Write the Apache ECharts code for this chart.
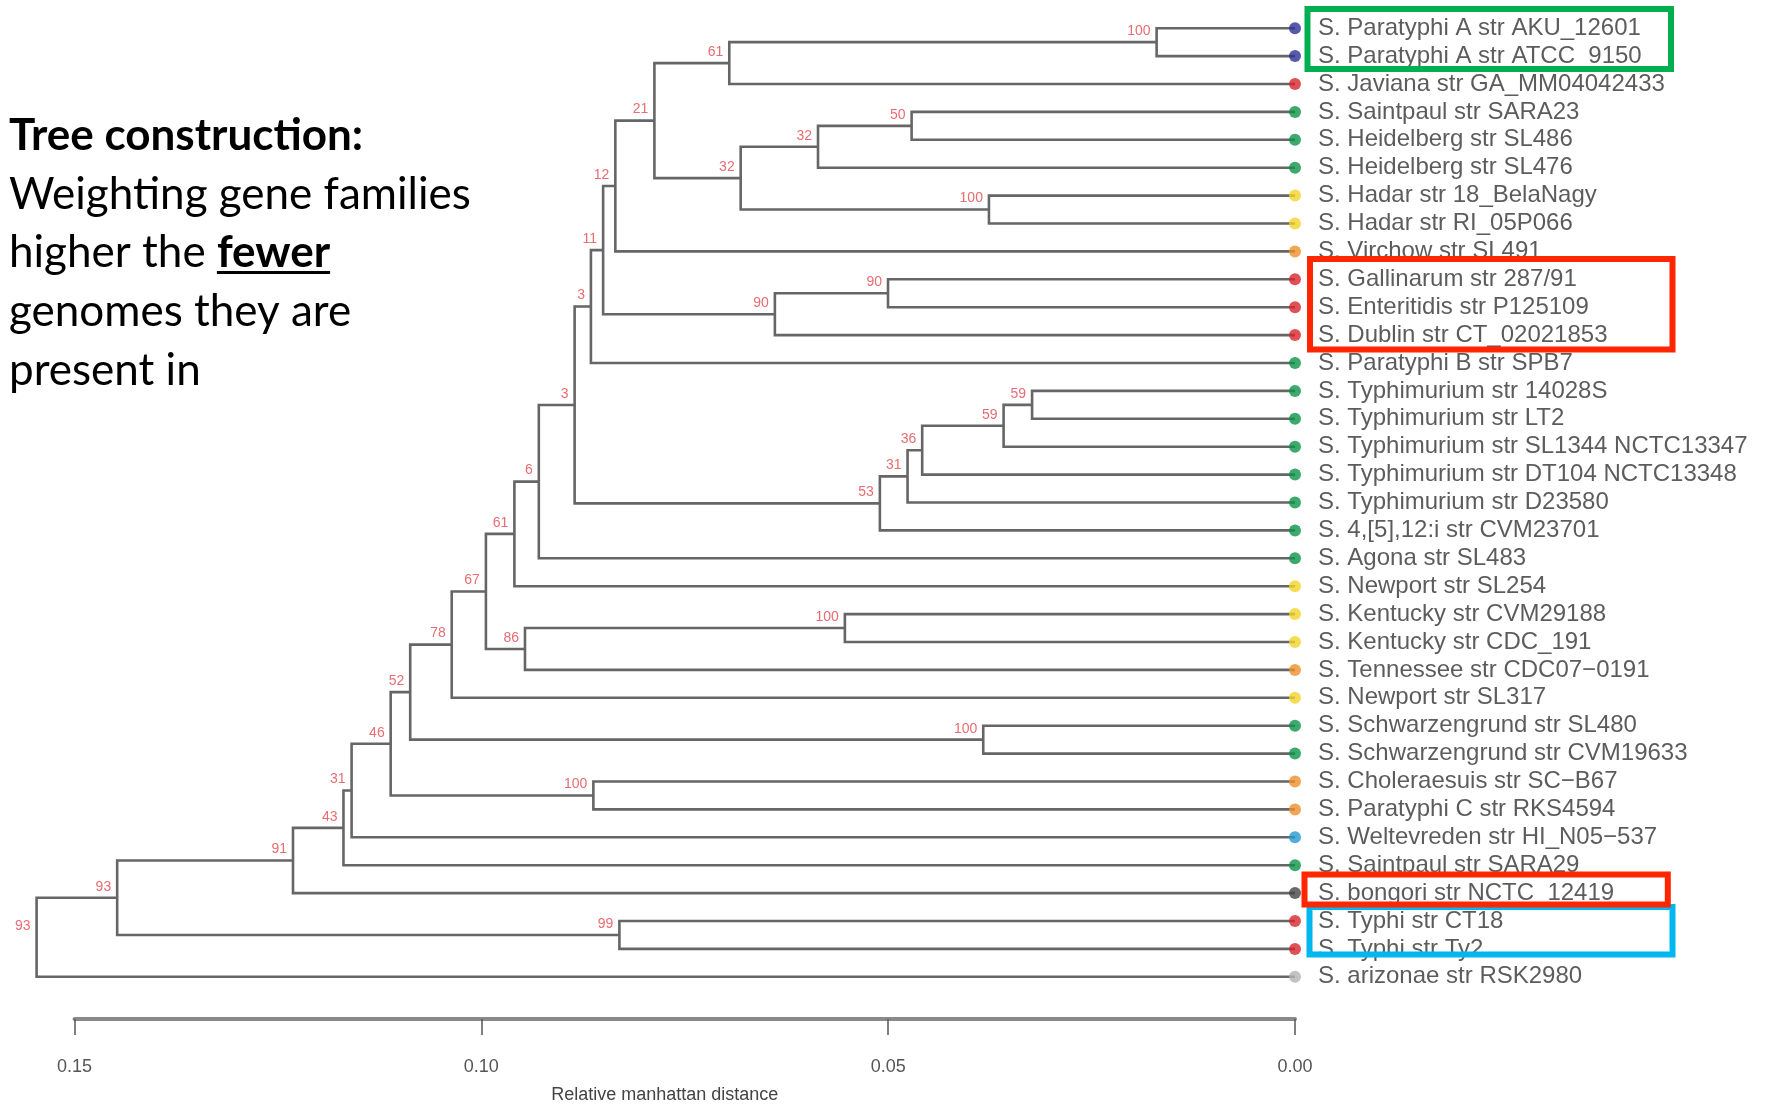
<!DOCTYPE html>
<html>
<head>
<meta charset="UTF-8">
<title>Salmonella tree</title>
<script type="text/javascript" src="https://cdn.jsdelivr.net/npm/echarts@6/dist/echarts.min.js"></script>
<style>
  html, body { margin: 0; padding: 0; background: #fff; }
  #container { width: 1769px; height: 1104px; }
</style>
</head>
<body>
<div id="container"></div>
<script type="text/javascript">
// leaves, top to bottom
var leafNames = [
    'S. Paratyphi A str AKU_12601',
    'S. Paratyphi A str ATCC_9150',
    'S. Javiana str GA_MM04042433',
    'S. Saintpaul str SARA23',
    'S. Heidelberg str SL486',
    'S. Heidelberg str SL476',
    'S. Hadar str 18_BelaNagy',
    'S. Hadar str RI_05P066',
    'S. Virchow str SL491',
    'S. Gallinarum str 287/91',
    'S. Enteritidis str P125109',
    'S. Dublin str CT_02021853',
    'S. Paratyphi B str SPB7',
    'S. Typhimurium str 14028S',
    'S. Typhimurium str LT2',
    'S. Typhimurium str SL1344 NCTC13347',
    'S. Typhimurium str DT104 NCTC13348',
    'S. Typhimurium str D23580',
    'S. 4,[5],12:i str CVM23701',
    'S. Agona str SL483',
    'S. Newport str SL254',
    'S. Kentucky str CVM29188',
    'S. Kentucky str CDC_191',
    'S. Tennessee str CDC07\u22120191',
    'S. Newport str SL317',
    'S. Schwarzengrund str SL480',
    'S. Schwarzengrund str CVM19633',
    'S. Choleraesuis str SC\u2212B67',
    'S. Paratyphi C str RKS4594',
    'S. Weltevreden str HI_N05\u2212537',
    'S. Saintpaul str SARA29',
    'S. bongori str NCTC_12419',
    'S. Typhi str CT18',
    'S. Typhi str Ty2',
    'S. arizonae str RSK2980'
];
var leafGroup = ['A','A','R','G','G','G','Y','Y','O','R','R','R','G','G','G','G','G','G','G','G',
                 'Y','Y','Y','O','Y','G','G','O','O','C','G','K','R','R','L'];

// merges, hclust style: negative = leaf (1-based), positive = earlier merge
var mergeA = [-1, 1, -4, 3, -7, 4, 2, 7, -10, 9, 8, 11, -14, 13, 14, 15, 16, 12, 18, 19,
              -22, 21, 20, 23, -26, 24, -28, 26, 28, 29, 30, -33, 31, 33];
var mergeB = [-2, -3, -5, -6, -8, 5, 6, -9, -11, -12, 10, -13, -15, -16, -17, -18, -19, 17, -20, -21,
              -23, -24, 22, -25, -27, 25, -29, 27, -30, -31, -32, -34, 32, -35];
var mergeHeight = [0.0170, 0.0695, 0.0471, 0.0586, 0.0376, 0.0681, 0.0787, 0.0835, 0.0500, 0.0639,
                   0.0850, 0.0865, 0.0323, 0.0358, 0.0458, 0.0476, 0.0510, 0.0885, 0.0929, 0.0959,
                   0.0553, 0.0946, 0.0994, 0.1036, 0.0383, 0.1087, 0.0862, 0.1111, 0.1159, 0.1169,
                   0.1231, 0.0830, 0.1447, 0.1546];
var mergeSupport = [100, 61, 50, 32, 100, 32, 21, 12, 90, 90, 11, 3, 59, 59, 36, 31, 53, 3, 6, 61,
                    100, 86, 67, 78, 100, 52, 100, 46, 31, 43, 91, 99, 93, 93];

var groupColors = {A: '#2d2f96', R: '#d8252d', G: '#0d9349', Y: '#f1d52a', O: '#ee902c',
                   C: '#2497d0', K: '#454545', L: '#b3b3b3'};

// node positions
var nodeY = [], nodeH = [];
function childPos(c) {
    if (c < 0) return [0, -c - 1];
    return [nodeH[c - 1], nodeY[c - 1]];
}
var linkData = [], nodeLabelData = [];
for (var i = 0; i < mergeA.length; i++) {
    var a = childPos(mergeA[i]), b = childPos(mergeB[i]);
    nodeH.push(mergeHeight[i]);
    nodeY.push((a[1] + b[1]) / 2);
    linkData.push([mergeHeight[i], a[1], b[1], a[0], b[0]]);
    nodeLabelData.push([mergeHeight[i], (a[1] + b[1]) / 2, mergeSupport[i]]);
}
var leafData = leafNames.map(function (n, i) {
    return {value: [0, i], name: n, itemStyle: {color: groupColors[leafGroup[i]]}};
});

var dom = document.getElementById('container');
var myChart = echarts.init(dom, null, {renderer: 'canvas'});

var textFont = 'Lato';
var textSize = 44;
var sansFont = '"Liberation Sans", Arial, sans-serif';

// width of "higher the " for the underline of the bold word
var ctx = document.createElement('canvas').getContext('2d');
ctx.font = textSize + 'px ' + textFont;
var fewerX = 9 + ctx.measureText('higher the ').width;
ctx.font = 'bold ' + textSize + 'px ' + textFont;
var fewerW = ctx.measureText('fewer').width;

function leftLine(txt, x, y, bold) {
    return {type: 'text', x: x, y: y, style: {text: txt, fontSize: textSize, fontWeight: bold ? 'bold' : 'normal',
            fontFamily: textFont, fill: '#000', verticalAlign: 'middle'}};
}

var option = {
    backgroundColor: '#fff',
    animation: false,
    grid: [
        {left: 25.2, right: 474, top: 28.2, bottom: 127.2, outerBoundsMode: 'none'},
        {left: 74.5, right: 474, top: 1000, bottom: 85, outerBoundsMode: 'none'}
    ],
    xAxis: [
        {gridIndex: 0, type: 'value', min: 0, max: 0.156, inverse: true, show: false},
        {
            gridIndex: 1, type: 'value', min: 0, max: 0.15, interval: 0.05, inverse: true,
            position: 'bottom',
            splitLine: {show: false},
            axisLine: {show: true, lineStyle: {color: '#8a8a8a', width: 4}},
            axisTick: {show: true, length: 16, lineStyle: {color: '#555', width: 1.5}},
            axisLabel: {
                margin: 39, fontSize: 18, color: '#555', fontFamily: sansFont,
                showMinLabel: true, showMaxLabel: true,
                formatter: function (v) { return v.toFixed(2); }
            },
            name: 'Relative manhattan distance',
            nameLocation: 'middle',
            nameGap: 67,
            nameTextStyle: {fontSize: 18, color: '#444', fontFamily: sansFont, padding: [0, 40, 0, 0]}
        }
    ],
    yAxis: [
        {gridIndex: 0, type: 'value', min: 0, max: 34, inverse: true, show: false},
        {gridIndex: 1, type: 'value', min: 0, max: 1, show: false}
    ],
    series: [
        {
            type: 'custom',
            xAxisIndex: 0, yAxisIndex: 0,
            silent: true,
            clip: false,
            encode: {x: [0, 3, 4], y: [1, 2]},
            data: linkData,
            renderItem: function (params, api) {
                var h = api.value(0), yA = api.value(1), yB = api.value(2);
                var hA = api.value(3), hB = api.value(4);
                return {
                    type: 'polyline',
                    shape: {points: [api.coord([hA, yA]), api.coord([h, yA]), api.coord([h, yB]), api.coord([hB, yB])]},
                    style: {stroke: '#666', lineWidth: 2.6, fill: null}
                };
            },
            z: 2
        },
        {
            type: 'scatter',
            xAxisIndex: 0, yAxisIndex: 0,
            silent: true,
            symbolSize: 12,
            data: leafData,
            label: {
                show: true, position: 'right', distance: 17,
                formatter: '{b}', fontSize: 24, color: '#333', fontFamily: sansFont
            },
            z: 3
        },
        {
            type: 'scatter',
            xAxisIndex: 0, yAxisIndex: 0,
            silent: true,
            symbolSize: 0,
            data: nodeLabelData,
            label: {
                show: true, position: 'left', distance: 6, offset: [0, -11],
                formatter: function (p) { return p.value[2]; },
                fontSize: 14, color: '#e2474d', fontFamily: sansFont
            },
            z: 4
        }
    ],
    graphic: [
        leftLine('Tree construction:', 9, 136, true),
        leftLine('Weighting gene families', 9, 194.5, false),
        leftLine('higher the ', 9, 253, false),
        leftLine('fewer', fewerX, 253, true),
        {type: 'line', shape: {x1: fewerX, y1: 272.5, x2: fewerX + fewerW, y2: 272.5}, style: {stroke: '#000', lineWidth: 3}},
        leftLine('genomes they are', 9, 312, false),
        leftLine('present in', 9, 371, false),
        // highlight boxes
        {type: 'rect', shape: {x: 1307.5, y: 9, width: 363.5, height: 60}, style: {fill: 'transparent', stroke: '#00b050', lineWidth: 6}, z: 10},
        {type: 'rect', shape: {x: 1310, y: 259, width: 362.5, height: 90.5}, style: {fill: 'transparent', stroke: '#ff2600', lineWidth: 6}, z: 10},
        {type: 'rect', shape: {x: 1309.5, y: 907, width: 363, height: 47.5}, style: {fill: 'transparent', stroke: '#00b8ef', lineWidth: 6}, z: 10},
        {type: 'rect', shape: {x: 1304.5, y: 874.5, width: 363.3, height: 30}, style: {fill: 'transparent', stroke: '#ff2600', lineWidth: 6}, z: 11}
    ]
};
myChart.setOption(option);
</script>
</body>
</html>
